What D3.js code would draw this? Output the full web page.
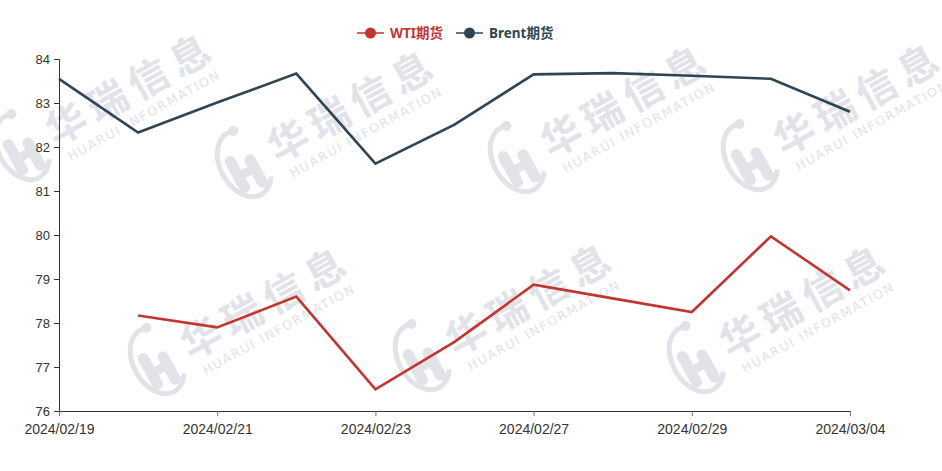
<!DOCTYPE html>
<html><head><meta charset="utf-8">
<script src="https://cdn.jsdelivr.net/npm/d3@7/dist/d3.min.js"></script>
<style>body{margin:0;background:#fff}svg{display:block;font-family:"Noto Sans","Noto Sans CJK SC",sans-serif}</style>
</head><body><svg id="c" width="942" height="471"></svg>
<script>
const categories = ["2024/02/19","2024/02/20","2024/02/21","2024/02/22","2024/02/23","2024/02/26","2024/02/27","2024/02/28","2024/02/29","2024/03/01","2024/03/04"];
const wti   = [null, 78.17, 77.90, 78.60, 76.49, 77.57, 78.87, 78.56, 78.25, 79.97, 78.74];
const brent = [83.55, 82.33, 83.01, 83.67, 81.62, 82.51, 83.65, 83.68, 83.62, 83.55, 82.80];
const yTicks = [76,77,78,79,80,81,82,83,84];
const seriesNames = ["WTI期货","Brent期货"];
const colors = ["#c23531","#2f4554"];

const svg = d3.select("#c");
const W = 942, H = 471;
const m = {left:59, right:92, top:59, bottom:60};

// watermarks
const wm = svg.append("g").attr("class","watermark");
const wmPos = [[20,148],[242,165],[515,160],[748,158],[155,362],[420,358],[694,360]];
const wmc = "#e1e3e9";
wmPos.forEach(([x,y])=>{
  const g = wm.append("g").attr("transform",`translate(${x},${y}) rotate(-29)`).attr("fill",wmc).attr("stroke","none");
  g.append("path").attr("d","M8,-34 A24 35 0 1 0 20,24").attr("fill","none").attr("stroke",wmc).attr("stroke-width",5);
  g.append("circle").attr("cx",9).attr("cy",-34).attr("r",5);
  g.append("rect").attr("x",-14).attr("y",-14).attr("width",11).attr("height",40).attr("rx",5);
  g.append("rect").attr("x",4).attr("y",-6).attr("width",11).attr("height",36).attr("rx",5);
  g.append("rect").attr("x",-5).attr("y",4).attr("width",12).attr("height",9);
  g.append("text").attr("x",32).attr("y",16).attr("font-size",40).attr("font-weight",700)
    .attr("letter-spacing",7).attr("font-family","Noto Sans CJK SC").text("华瑞信息");
  g.append("text").attr("x",38).attr("y",36).attr("font-size",12.5).attr("letter-spacing",1.8)
    .attr("font-family","DejaVu Sans").text("HUARUI INFORMATION");
});

const x = d3.scalePoint().domain(categories).range([m.left, W - m.right]);
const y = d3.scaleLinear().domain([76,84]).range([H - m.bottom, m.top]);

// y axis
const ya = svg.append("g").attr("transform",`translate(${m.left},0)`)
  .call(d3.axisLeft(y).tickValues(yTicks).tickSize(5).tickPadding(4).tickFormat(d3.format("d")));
ya.select(".domain").attr("stroke","#333");
ya.selectAll(".tick line").attr("stroke","#333");
ya.selectAll("text").attr("fill","#333").attr("font-size",13);

// x axis
const xa = svg.append("g").attr("transform",`translate(0,${H - m.bottom})`)
  .call(d3.axisBottom(x).tickValues(categories.filter((d,i)=>i%2===0)).tickSize(5).tickPadding(8).tickSizeOuter(0));
xa.select(".domain").attr("stroke","#333");
xa.selectAll(".tick line").attr("stroke","#777");
xa.selectAll("text").attr("fill","#333").attr("font-size",14);

// lines
const line = d3.line().defined(d=>d.v!=null).x(d=>x(d.c)).y(d=>y(d.v));
[wti, brent].forEach((arr,i)=>{
  svg.append("path").datum(arr.map((v,j)=>({c:categories[j],v})))
    .attr("d",line).attr("fill","none").attr("stroke",colors[i]).attr("stroke-width",2.6)
    .attr("stroke-linejoin","miter");
});

// legend
const lg = svg.append("g").attr("transform","translate(357,33)");
const legX = [0, 99];
seriesNames.forEach((n,i)=>{
  const g = lg.append("g").attr("transform",`translate(${legX[i]},0)`);
  g.append("line").attr("x1",0).attr("x2",27).attr("y1",0).attr("y2",0).attr("stroke",colors[i]).attr("stroke-width",1.5);
  g.append("circle").attr("cx",13.5).attr("cy",0).attr("r",5.5).attr("fill",colors[i]);
  g.append("text").attr("x",33).attr("y",5).attr("font-size",13.5).attr("font-weight",700).attr("fill",colors[i]).text(n);
});
</script></body></html>
